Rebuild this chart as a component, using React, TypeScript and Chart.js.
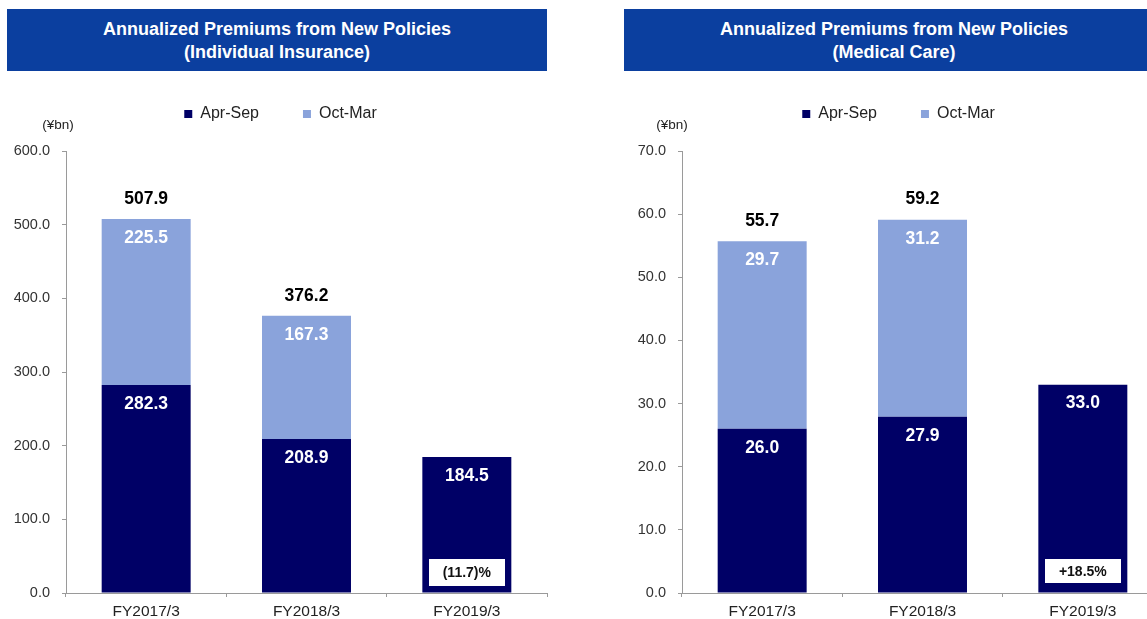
import React, { useEffect, useRef } from "react";
import { Chart, registerables } from "chart.js";

Chart.register(...registerables);

const FONT = '"Liberation Sans", Arial, Helvetica, sans-serif';
Chart.defaults.font.family = FONT;

// ---- data ----
const categories = ["FY2017/3", "FY2018/3", "FY2019/3"];
const seriesNames = ["Apr-Sep", "Oct-Mar"];

const indivAprSep = [282.3, 208.9, 184.5];
const indivOctMar = [225.5, 167.3, null];
const indivTotals = [507.9, 376.2, null];
const indivChange = "(11.7)%";
const indivYMax = 600;
const indivYStep = 100;

const medAprSep = [26.0, 27.9, 33.0];
const medOctMar = [29.7, 31.2, null];
const medTotals = [55.7, 59.2, null];
const medChange = "+18.5%";
const medYMax = 70;
const medYStep = 10;

const DARK = "#000066";
const LIGHT = "#8AA3DB";
const TITLE_BG = "#0B3F9F";

type PanelProps = {
  left: number;
  top: number;
  width: number;
  height: number;
  axisWidth: number;
  aprSep: (number | null)[];
  octMar: (number | null)[];
  totals: (number | null)[];
  yMax: number;
  yStep: number;
  change: string;
  boxH: number;
  unitDx: number;
};

function BarPanel(p: PanelProps) {
  const ref = useRef<HTMLCanvasElement | null>(null);
  useEffect(() => {
    if (!ref.current) return;
    const labelPlugin = {
      id: "valueLabels",
      afterDatasetsDraw(chart: any) {
        const { ctx, chartArea } = chart;
        const yScale = chart.scales.y;
        ctx.save();
        ctx.textAlign = "center";
        ctx.textBaseline = "middle";
        // segment labels
        ctx.font = `bold 17.5px ${FONT}`;
        ctx.fillStyle = "#ffffff";
        chart.data.datasets.forEach((ds: any, di: number) => {
          const meta = chart.getDatasetMeta(di);
          meta.data.forEach((el: any, i: number) => {
            const v = ds.data[i];
            if (v == null) return;
            ctx.fillText(Number(v).toFixed(1), el.x, el.y + 19);
          });
        });
        // totals
        ctx.fillStyle = "#000000";
        const base = chart.getDatasetMeta(0);
        p.totals.forEach((t, i) => {
          if (t == null) return;
          const el: any = base.data[i];
          ctx.fillText(t.toFixed(1), el.x, yScale.getPixelForValue(t) - 20);
        });
        // change box on last bar
        const last: any = base.data[base.data.length - 1];
        const bw = 76;
        const bTop = chartArea.bottom - 34;
        ctx.fillStyle = "#ffffff";
        ctx.fillRect(Math.round(last.x - bw / 2), bTop, bw, p.boxH);
        ctx.fillStyle = "#111111";
        ctx.font = `bold 14px ${FONT}`;
        ctx.fillText(p.change, last.x, bTop + p.boxH / 2 + 1);
        // unit label
        ctx.font = `13.5px ${FONT}`;
        ctx.fillStyle = "#222222";
        ctx.fillText("(¥bn)", chartArea.left + p.unitDx, chartArea.top - 25.5);
        ctx.restore();
      },
    };

    const chart = new Chart(ref.current, {
      type: "bar",
      data: {
        labels: categories,
        datasets: [
          {
            label: seriesNames[0],
            data: p.aprSep,
            backgroundColor: DARK,
            barPercentage: 0.555,
            categoryPercentage: 1,
          },
          {
            label: seriesNames[1],
            data: p.octMar,
            backgroundColor: LIGHT,
            barPercentage: 0.555,
            categoryPercentage: 1,
          },
        ],
      },
      options: {
        responsive: false,
        animation: false,
        layout: { padding: { left: 0, right: 4, top: 0, bottom: 0 } },
        plugins: {
          legend: {
            display: true,
            position: "top",
            labels: {
              boxWidth: 8,
              boxHeight: 8,
              padding: 44,
              color: "#222222",
              font: { size: 16, family: FONT },
            },
          },
          title: {
            display: true,
            text: "",
            weight: 500,
            padding: 0,
            font: { size: 19, lineHeight: 1 },
          } as any,
          tooltip: { enabled: false },
        },
        scales: {
          x: {
            stacked: true,
            grid: {
              display: true,
              drawOnChartArea: false,
              drawTicks: true,
              tickLength: 4,
              color: "#9a9a9a",
              offset: true,
            },
            border: { color: "#9a9a9a" },
            ticks: { color: "#222222", font: { size: 15.5, family: FONT }, padding: 5 },
            afterFit(s: any) {
              s.height = 26;
            },
          },
          y: {
            stacked: true,
            min: 0,
            max: p.yMax,
            ticks: {
              stepSize: p.yStep,
              color: "#333333",
              font: { size: 14.5, family: FONT },
              padding: 12,
              callback: (v: any) => Number(v).toFixed(1),
            },
            grid: {
              drawOnChartArea: false,
              drawTicks: true,
              tickLength: 4,
              color: "#9a9a9a",
            },
            border: { color: "#9a9a9a" },
            afterFit(s: any) {
              s.width = p.axisWidth;
            },
          },
        },
      },
      plugins: [labelPlugin],
    } as any);
    return () => chart.destroy();
  }, []);
  return (
    <canvas
      ref={ref}
      width={p.width}
      height={p.height}
      style={{ position: "absolute", left: p.left, top: p.top, width: p.width, height: p.height }}
    />
  );
}

function TitleBox({ left, width, lines }: { left: number; width: number; lines: string[] }) {
  return (
    <div
      style={{
        position: "absolute",
        left,
        top: 9,
        width,
        height: 62,
        background: TITLE_BG,
        color: "#ffffff",
        fontFamily: FONT,
        fontWeight: "bold",
        fontSize: 18,
        lineHeight: "23px",
        display: "flex",
        flexDirection: "column",
        alignItems: "center",
        justifyContent: "center",
        boxSizing: "border-box",
        paddingTop: 2,
      }}
    >
      {lines.map((l) => (
        <div key={l}>{l}</div>
      ))}
    </div>
  );
}

export default function App() {
  return (
    <div
      style={{
        position: "fixed",
        left: 0,
        top: 0,
        width: 1147,
        height: 619,
        overflow: "hidden",
        background: "#ffffff",
      }}
    >
      <TitleBox left={7} width={540} lines={["Annualized Premiums from New Policies", "(Individual Insurance)"]} />
      <TitleBox left={624} width={540} lines={["Annualized Premiums from New Policies", "(Medical Care)"]} />
      <BarPanel
        left={14}
        top={62}
        width={537}
        height={557}
        axisWidth={52}
        aprSep={indivAprSep}
        octMar={indivOctMar}
        totals={indivTotals}
        yMax={indivYMax}
        yStep={indivYStep}
        change={indivChange}
        boxH={27}
        unitDx={-8}
      />
      <BarPanel
        left={634}
        top={62}
        width={533}
        height={557}
        axisWidth={48}
        aprSep={medAprSep}
        octMar={medOctMar}
        totals={medTotals}
        yMax={medYMax}
        yStep={medYStep}
        change={medChange}
        boxH={24}
        unitDx={-10}
      />
    </div>
  );
}
